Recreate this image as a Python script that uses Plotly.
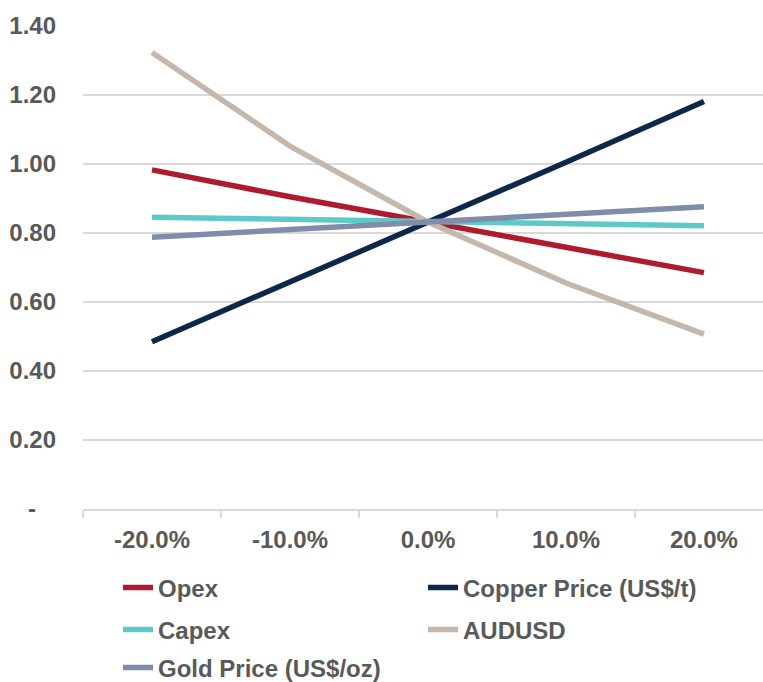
import plotly.graph_objects as go

categories = ["-20.0%", "-10.0%", "0.0%", "10.0%", "20.0%"]
opex = [0.983, 0.905, 0.832, 0.757, 0.685]
copper = [0.485, 0.657, 0.832, 1.005, 1.181]
capex = [0.846, 0.839, 0.832, 0.826, 0.821]
audusd = [1.323, 1.052, 0.832, 0.655, 0.507]
gold = [0.788, 0.810, 0.832, 0.853, 0.876]

ytickvals = [0, 0.2, 0.4, 0.6, 0.8, 1.0, 1.2, 1.4]
yticktext = ["-\u00a0\u00a0\u00a0", "0.20", "0.40", "0.60", "0.80", "1.00", "1.20", "1.40"]

series = [
    ("Opex", opex, "#AE1A2E", "legend"),
    ("Copper Price (US$/t)", copper, "#0C2749", "legend"),
    ("Capex", capex, "#5ECAC7", "legend2"),
    ("AUDUSD", audusd, "#C4B8AC", "legend2"),
    ("Gold Price (US$/oz)", gold, "#7F8DAB", "legend3"),
]

FONT = "Liberation Sans, Arial, sans-serif"
TXT = "#595959"
FS = 24

fig = go.Figure()
for name, vals, color, lg in series:
    fig.add_trace(go.Scatter(
        x=categories, y=vals, name=name, mode="lines",
        line=dict(color=color, width=5.5), legend=lg,
    ))

W, H = 763, 682
ml, mr, mt, mb = 83, 0, 26, 173
pw, ph = W - ml - mr, H - mt - mb

def px_x(p):
    return (p - ml) / pw

def px_y(p):
    return (H - mb - p) / ph

legend_common = dict(
    orientation="h", xanchor="left", yanchor="middle",
    font=dict(family=FONT, size=FS, color=TXT, weight="bold"),
    entrywidth=260, entrywidthmode="pixels", bgcolor="rgba(0,0,0,0)",
    itemwidth=30,
)

fig.update_layout(
    width=W, height=H,
    margin=dict(l=ml, r=mr, t=mt, b=mb, autoexpand=False),
    plot_bgcolor="white", paper_bgcolor="white",
    font=dict(family=FONT, size=FS, color=TXT, weight="bold"),
    xaxis=dict(
        type="category", range=[-0.5, 4.428], automargin=False,
        showgrid=False, showline=True, linecolor="#D9D9D9", linewidth=2,
        ticks="outside", tickson="boundaries", ticklen=7, tickcolor="#D9D9D9", tickwidth=2,
        tickfont=dict(family=FONT, size=FS, color=TXT, weight="bold"),
        ticklabelstandoff=8,
    ),
    yaxis=dict(
        range=[0, 1.4], tickvals=ytickvals, ticktext=yticktext, automargin=False,
        showgrid=True, gridcolor="#D9D9D9", gridwidth=2,
        zeroline=False, showline=False,
        tickfont=dict(family=FONT, size=FS, color=TXT, weight="bold"),
        ticklabelstandoff=26,
    ),
    showlegend=True,
    legend=dict(x=px_x(118), y=px_y(588), **legend_common),
    legend2=dict(x=px_x(118), y=px_y(630), **legend_common),
    legend3=dict(x=px_x(118), y=px_y(668), **legend_common),
)

fig.write_html("out.html")
